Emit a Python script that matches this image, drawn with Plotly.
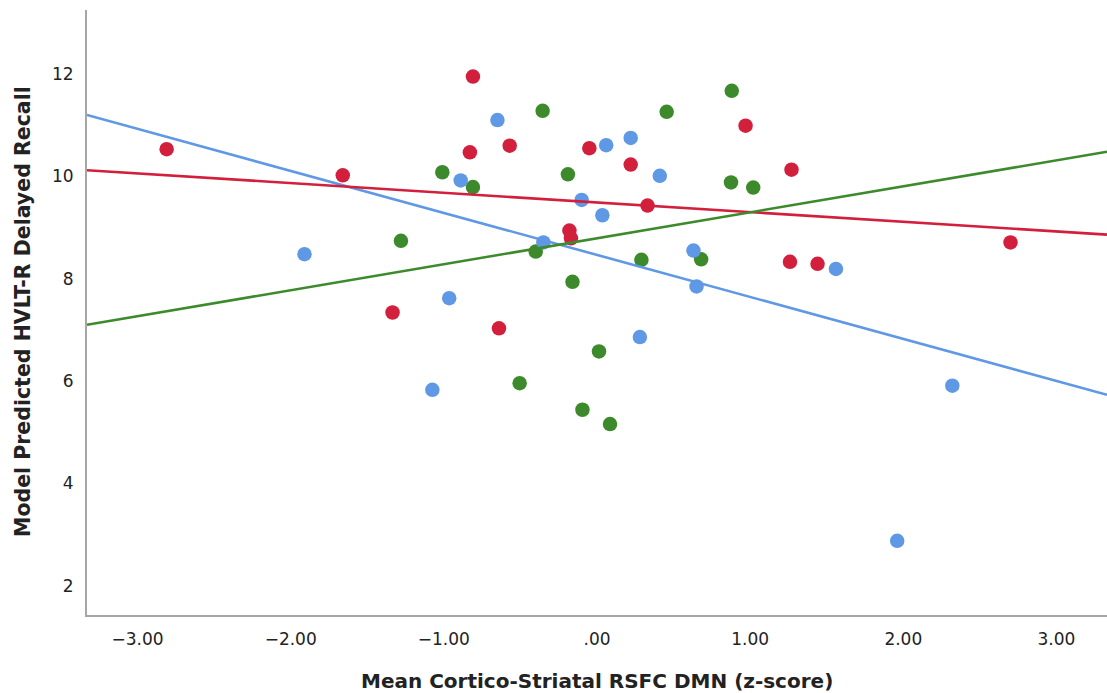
import plotly.graph_objects as go

# ---- data ----
red_x = [-2.81, -1.66, -0.81, -0.83, -1.335, -0.57, -0.05, 0.22, 0.97, 1.27, 0.33, -0.18, -0.17, 1.26, 1.44, -0.64, 2.70]
red_y = [10.53, 10.02, 11.95, 10.47, 7.34, 10.60, 10.55, 10.23, 10.99, 10.13, 9.43, 8.94, 8.79, 8.33, 8.29, 7.03, 8.71]

blue_x = [-1.91, -0.89, -0.965, -0.65, 0.06, 0.22, 0.41, -0.10, 0.035, -0.35, 0.63, 0.65, 0.28, -1.075, 1.56, 2.32, 1.96]
blue_y = [8.48, 9.92, 7.62, 11.10, 10.61, 10.75, 10.01, 9.54, 9.24, 8.71, 8.55, 7.85, 6.86, 5.83, 8.19, 5.91, 2.88]

green_x = [-1.01, -0.81, -1.28, -0.355, 0.455, 0.88, -0.19, 0.875, 1.02, -0.40, 0.68, 0.29, -0.16, 0.013, -0.505, -0.095, 0.085]
green_y = [10.08, 9.79, 8.74, 11.28, 11.26, 11.67, 10.04, 9.88, 9.78, 8.53, 8.38, 8.37, 7.94, 6.58, 5.96, 5.44, 5.16]

# fit lines (intercept, slope)
red_fit = (9.49, -0.189)
blue_fit = (8.465, -0.821)
green_fit = (8.79, 0.5075)

x_range = [-3.33, 3.33]
y_range = [1.43, 13.25]

x_tickvals = [-3, -2, -1, 0, 1, 2, 3]
x_ticktext = ["\u22123.00", "\u22122.00", "\u22121.00", ".00", "1.00", "2.00", "3.00"]
y_tickvals = [2, 4, 6, 8, 10, 12]

x_title = "Mean Cortico-Striatal RSFC DMN (z-score)"
y_title = "Model Predicted HVLT-R Delayed Recall"

RED = "#d21f3c"
BLUE = "#5f98e4"
GREEN = "#3c8a2b"

fig = go.Figure()

for (fx, fy, col) in [(green_x, green_y, GREEN), (blue_x, blue_y, BLUE), (red_x, red_y, RED)]:
    fig.add_trace(go.Scatter(x=fx, y=fy, mode="markers",
                             marker=dict(size=14.5, color=col, line=dict(width=0)),
                             showlegend=False, hoverinfo="x+y"))

for (fit, col) in [(blue_fit, BLUE), (red_fit, RED), (green_fit, GREEN)]:
    b0, b1 = fit
    xs = [x_range[0], x_range[1]]
    ys = [b0 + b1 * v for v in xs]
    fig.add_trace(go.Scatter(x=xs, y=ys, mode="lines",
                             line=dict(color=col, width=2.6),
                             showlegend=False, hoverinfo="skip"))

fig.update_layout(
    width=1107, height=693,
    margin=dict(l=87, r=0, t=10, b=78),
    paper_bgcolor="white", plot_bgcolor="white",
    font=dict(family="DejaVu Sans", size=16, color="#222222"),
    xaxis=dict(
        range=x_range, tickvals=x_tickvals, ticktext=x_ticktext,
        showgrid=False, zeroline=False, showline=True, linecolor="#a6a6a6",
        linewidth=2, ticks="", tickfont=dict(size=17, color="#222222"),
        ticklabelstandoff=8, automargin=False,
    ),
    yaxis=dict(
        range=y_range, tickvals=y_tickvals,
        showgrid=False, zeroline=False, showline=True, linecolor="#a6a6a6",
        linewidth=2, ticks="", tickfont=dict(size=17, color="#222222"),
        ticklabelstandoff=8, automargin=False,
    ),
    annotations=[
        dict(text="<b>" + x_title + "</b>", xref="paper", yref="paper",
             x=0.5, y=(615 - 681) / 605, xanchor="center", yanchor="middle",
             showarrow=False, font=dict(size=20, color="#222222")),
        dict(text="<b>" + y_title + "</b>", xref="paper", yref="paper",
             x=(23 - 87) / 1020, y=(615 - 312) / 605, xanchor="center", yanchor="middle",
             textangle=-90, showarrow=False, font=dict(size=20.5, color="#222222")),
    ],
)

fig.write_html(
    "out.html",
    config={"displayModeBar": False},
    post_script="document.body.style.margin='0';document.body.style.overflow='hidden';",
)
